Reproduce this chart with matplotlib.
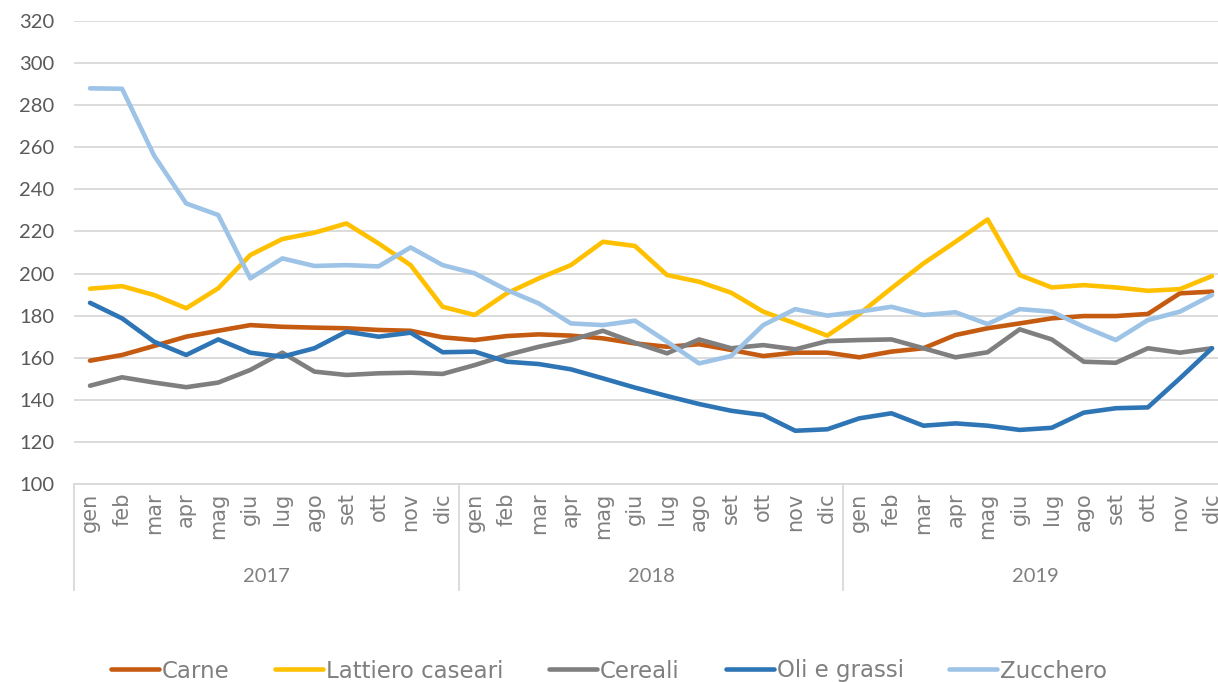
import matplotlib
matplotlib.use("Agg")
import matplotlib.pyplot as plt
import matplotlib.transforms as mtransforms

# monthly index values, 2017-2019
mesi = ['gen', 'feb', 'mar', 'apr', 'mag', 'giu', 'lug', 'ago', 'set', 'ott', 'nov', 'dic']
anni = ['2017', '2018', '2019']

carne = [158.6, 161.3, 165.6, 170.0, 172.8, 175.5, 174.7, 174.3, 174.0, 173.2, 172.8, 169.7,
         168.4, 170.3, 171.1, 170.5, 169.2, 166.8, 165.2, 166.4, 163.7, 160.8, 162.4, 162.4,
         160.2, 162.9, 164.5, 170.8, 174.0, 176.3, 178.7, 179.8, 179.8, 180.8, 190.6, 191.4]
lattiero = [192.8, 194.0, 189.8, 183.5, 193.0, 208.8, 216.4, 219.4, 223.8, 214.3, 204.0, 184.2,
            180.3, 190.6, 197.7, 204.0, 215.1, 213.1, 199.3, 196.1, 190.9, 181.9, 176.3, 170.5,
            180.8, 193.0, 204.8, 215.1, 225.7, 199.3, 193.4, 194.5, 193.4, 191.8, 192.6, 198.8]
cereali = [146.7, 150.7, 148.2, 146.0, 148.2, 154.2, 162.4, 153.4, 151.8, 152.6, 152.9, 152.3,
           156.5, 161.3, 165.2, 168.4, 172.8, 167.1, 162.1, 168.7, 164.5, 166.0, 164.0, 167.9,
           168.4, 168.7, 164.5, 160.2, 162.6, 173.5, 168.7, 158.1, 157.6, 164.5, 162.4, 164.5]
oli = [186.1, 178.7, 167.6, 161.3, 168.7, 162.4, 160.5, 164.5, 172.4, 170.0, 171.9, 162.6,
       162.9, 158.1, 157.0, 154.5, 150.2, 145.8, 141.8, 138.0, 134.8, 132.8, 125.3, 126.0,
       131.2, 133.6, 127.7, 128.8, 127.7, 125.7, 126.7, 133.9, 136.0, 136.4, 150.2, 164.5]
zucchero = [288.0, 287.8, 256.0, 233.3, 227.8, 197.7, 207.2, 203.6, 204.0, 203.4, 212.4, 204.0,
            200.1, 192.2, 185.8, 176.3, 175.5, 177.6, 167.6, 157.3, 160.8, 175.5, 183.1, 180.0,
            181.9, 184.2, 180.3, 181.6, 176.0, 183.1, 181.9, 174.7, 168.4, 177.9, 181.9, 189.8]

serie = [('Carne', carne, '#C55A11'),
         ('Lattiero caseari', lattiero, '#FFC000'),
         ('Cereali', cereali, '#7F7F7F'),
         ('Oli e grassi', oli, '#2E75B6'),
         ('Zucchero', zucchero, '#9DC3E6')]

plt.rcParams['font.family'] = ['DejaVu Sans']

W, H = 1218, 682
fig = plt.figure(figsize=(W / 100, H / 100), dpi=100)
ax = fig.add_axes([74 / W, 1 - 484 / H, 1154 / W, 463 / H])

x = list(range(len(carne)))
for nome, valori, colore in serie:
    ax.plot(x, valori, color=colore, lw=3.3, label=nome, solid_capstyle='round')

ax.set_ylim(100, 320)
ax.set_yticks(range(100, 321, 20))
ax.set_xlim(-0.5, len(x) - 0.5)
ax.grid(axis='y', color='#D9D9D9', lw=1.3)
ax.set_axisbelow(True)
for s in ['left', 'right', 'top']:
    ax.spines[s].set_visible(False)
ax.spines['bottom'].set_color('#D9D9D9')
ax.spines['bottom'].set_linewidth(1.3)

ax.tick_params(axis='y', length=0, pad=14, labelcolor='#595959')
for lab in ax.get_yticklabels():
    lab.set_fontfamily('Lato')
    lab.set_fontsize(14.5)
ax.set_xticks(x)
ax.set_xticklabels(mesi * len(anni), rotation=90, fontsize=15, color='#7F7F7F')
ax.tick_params(axis='x', length=0, pad=6)

trans = mtransforms.blended_transform_factory(ax.transData, ax.transAxes)
for i, anno in enumerate(anni):
    ax.text(i * 12 + 5.5, -0.2, anno, transform=trans, ha='center', va='center',
            fontsize=14.5, color='#7F7F7F', family='Lato')
for i in range(len(anni) + 1):
    ax.plot([i * 12 - 0.5] * 2, [0, -0.229], transform=trans, color='#D9D9D9',
            lw=1.3, clip_on=False)

fig.legend(loc='center', bbox_to_anchor=(0.5, 1 - 671 / H), ncol=5, frameon=False,
           fontsize=16.5, handlelength=2.1, handletextpad=0.12, columnspacing=2.0,
           labelcolor='#7F7F7F')

fig.savefig('out.png', dpi=100)
